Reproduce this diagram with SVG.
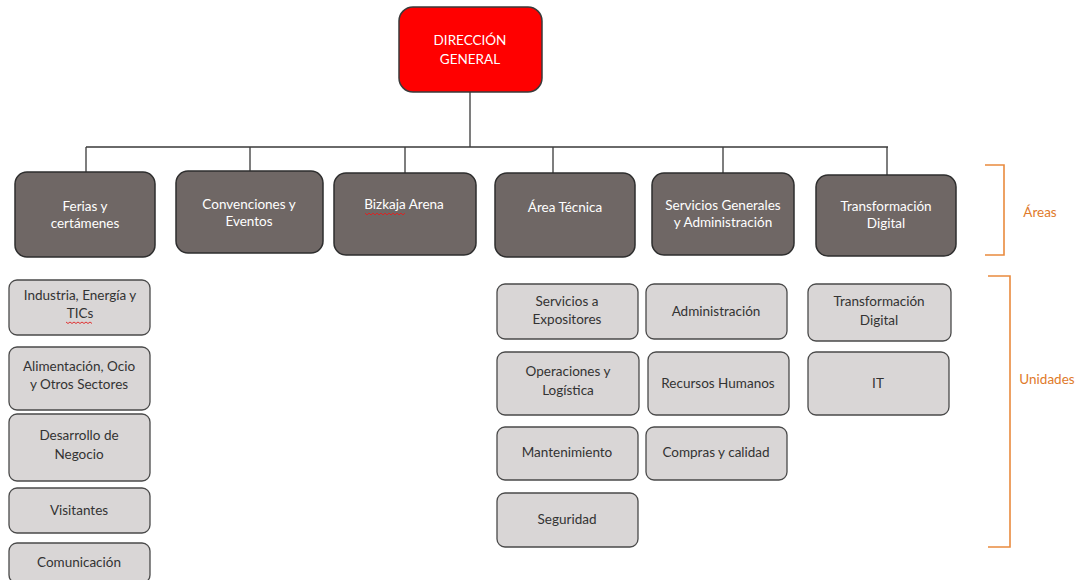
<svg xmlns="http://www.w3.org/2000/svg" width="1081" height="580" viewBox="0 0 1081 580">
<style>
text{font-family:Lato,"Open Sans","Liberation Sans",sans-serif;font-size:13.5px;text-anchor:middle}
.top rect{fill:#FF0000;stroke:#3a3a3a;stroke-width:1.5}
.top text{fill:#ffffff}
.area rect{fill:#6F6765;stroke:#2e2e2e;stroke-width:1.5}
.area text{fill:#ffffff}
.unit rect{fill:#D9D6D6;stroke:#4a4a4a;stroke-width:1.3}
.unit text{fill:#333333}
.conn path{fill:none;stroke:#3a3a3a;stroke-width:1.3}
.brk{fill:none;stroke:#E98A3E;stroke-width:1.6}
.lbl{fill:#E07A2A;font-size:13.5px}
.sq{fill:none;stroke:#E02020;stroke-width:0.9}
</style>
<g class="conn" id="connectors">
<path d="M470 92V147M86 147H888M86 147V172M250 147V171M405 147V173M553 147V173M723 147V173M887 147V175"/>
</g>
<g class="top" id="n-direccion"><rect x="399" y="7" width="143" height="85" rx="14"/><text x="470" y="45">DIRECCIÓN</text><text x="470" y="64">GENERAL</text></g>
<g class="area" id="n-ferias"><rect x="15" y="172" width="140" height="85" rx="12"/><text x="85" y="211">Ferias y</text><text x="85" y="228">certámenes</text></g>
<g class="area" id="n-convenciones"><rect x="176" y="171" width="147" height="82" rx="12"/><text x="249" y="209">Convenciones y</text><text x="249" y="226">Eventos</text></g>
<g class="area" id="n-bizkaia"><rect x="334" y="173" width="142" height="82" rx="12"/><text x="404" y="209">Bizkaja Arena</text><path class="sq" d="M365 213l2 2l2-2l2 2l2-2l2 2l2-2l2 2l2-2l2 2l2-2l2 2l2-2l2 2l2-2l2 2l2-2l2 2l2-2l2 2l2-2"/></g>
<g class="area" id="n-areatecnica"><rect x="495" y="173" width="140" height="84" rx="12"/><text x="565" y="212">Área Técnica</text></g>
<g class="area" id="n-servicios"><rect x="652" y="173" width="142" height="82" rx="12"/><text x="723" y="210">Servicios Generales</text><text x="723" y="227">y Administración</text></g>
<g class="area" id="n-transformacion"><rect x="816" y="175" width="140" height="81" rx="12"/><text x="886" y="211">Transformación</text><text x="886" y="228">Digital</text></g>
<path class="brk" d="M985 165H1004V255H985"/>
<text class="lbl" x="1040" y="217">Áreas</text>
<g class="unit" id="u-industria"><rect x="9" y="280" width="141" height="55" rx="8"/><text x="80" y="300">Industria, Energía y</text><text x="80" y="318">TICs</text><path class="sq" d="M66 322l2 1.5l2-1.5l2 1.5l2-1.5l2 1.5l2-1.5l2 1.5l2-1.5l2 1.5l2-1.5l2 1.5l2-1.5l2 1.5"/></g>
<g class="unit" id="u-alimentacion"><rect x="9" y="347" width="141" height="63" rx="8"/><text x="79" y="371">Alimentación, Ocio</text><text x="79" y="389">y Otros Sectores</text></g>
<g class="unit" id="u-desarrollo"><rect x="9" y="414" width="141" height="67" rx="8"/><text x="79" y="440">Desarrollo de</text><text x="79" y="459">Negocio</text></g>
<g class="unit" id="u-visitantes"><rect x="9" y="488" width="141" height="45" rx="8"/><text x="79" y="515">Visitantes</text></g>
<g class="unit" id="u-comunicacion"><rect x="9" y="543" width="141" height="40" rx="8"/><text x="79" y="567">Comunicación</text></g>
<g class="unit" id="u-servexpo"><rect x="497" y="284" width="141" height="55" rx="8"/><text x="567" y="306">Servicios a</text><text x="567" y="324">Expositores</text></g>
<g class="unit" id="u-administracion"><rect x="646" y="284" width="141" height="55" rx="8"/><text x="716" y="316">Administración</text></g>
<g class="unit" id="u-operaciones"><rect x="497" y="352" width="142" height="63" rx="8"/><text x="568" y="376">Operaciones y</text><text x="568" y="395">Logística</text></g>
<g class="unit" id="u-rrhh"><rect x="648" y="352" width="141" height="63" rx="8"/><text x="718" y="388">Recursos Humanos</text></g>
<g class="unit" id="u-mantenimiento"><rect x="497" y="427" width="141" height="53" rx="8"/><text x="567" y="457">Mantenimiento</text></g>
<g class="unit" id="u-compras"><rect x="646" y="427" width="141" height="53" rx="8"/><text x="716" y="457">Compras y calidad</text></g>
<g class="unit" id="u-seguridad"><rect x="497" y="493" width="141" height="54" rx="8"/><text x="567" y="524">Seguridad</text></g>
<g class="unit" id="u-transdigital"><rect x="808" y="284" width="143" height="57" rx="8"/><text x="879" y="306">Transformación</text><text x="879" y="325">Digital</text></g>
<g class="unit" id="u-it"><rect x="808" y="352" width="141" height="63" rx="8"/><text x="878" y="388">IT</text></g>
<path class="brk" d="M988 276H1010V547H988"/>
<text class="lbl" x="1047" y="384">Unidades</text>
</svg>
